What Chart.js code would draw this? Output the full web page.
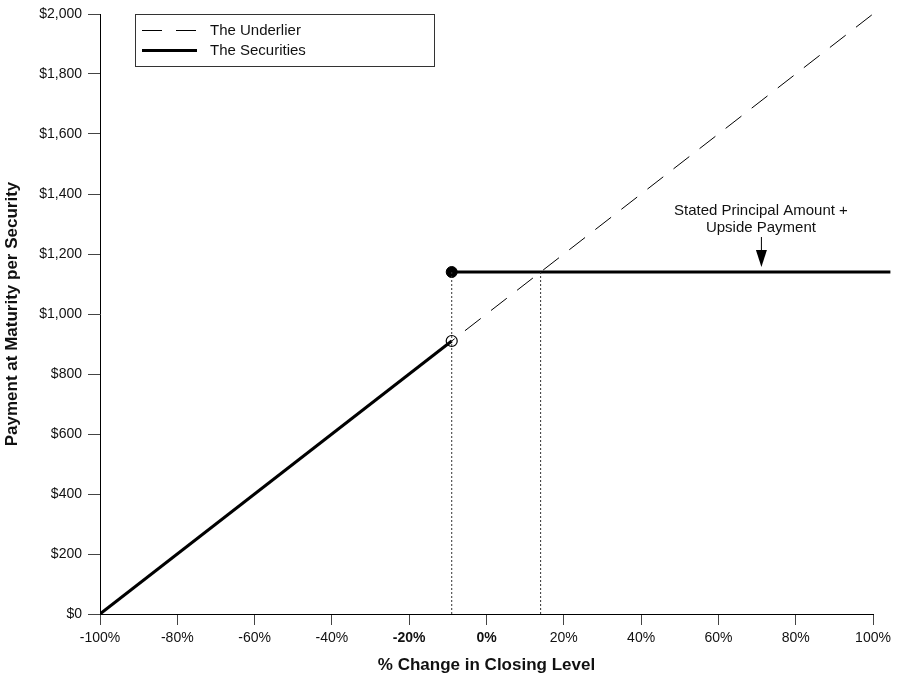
<!DOCTYPE html>
<html>
<head>
<meta charset="utf-8">
<script src="https://cdn.jsdelivr.net/npm/chart.js@4/dist/chart.umd.min.js"></script>
<style>
  html, body { margin: 0; padding: 0; background: #fff; }
  #wrap { width: 899px; height: 682px; }
</style>
</head>
<body>
<div id="wrap"><canvas id="payoff"></canvas></div>
<script>
// values
const underlierX = [-100, 100];
const underlierY = [0, 2000];
const securitiesLowX = [-100, -9];
const securitiesLowY = [0, 910];
const securitiesHighX = [-9, 104.5];
const securitiesHighY = [1140, 1140];
const bufferX = -9;
const capX = 14;
const capY = 1140;
const xTicksBold = [-20, 0];
const legendLabels = ['The Underlier', 'The Securities'];
const noteLines = ['Stated Principal Amount +', 'Upside Payment'];
const noteX = 71;

const FONT = '"Liberation Sans", Arial, sans-serif';

function pts(xs, ys) {
  return xs.map((x, i) => ({ x: x, y: ys[i] }));
}

const payoffOverlay = {
  id: 'payoffOverlay',
  afterDraw(chart) {
    const ctx = chart.ctx;
    const area = chart.chartArea;
    const xs = chart.scales.x;
    const ys = chart.scales.y;
    ctx.save();

    // legend box
    const bx = area.left + 35, by = area.top, bw = 299, bh = 52;
    ctx.strokeStyle = '#333';
    ctx.lineWidth = 1;
    ctx.strokeRect(bx + 0.5, by + 0.5, bw, bh);
    ctx.strokeStyle = '#000';
    ctx.lineWidth = 1;
    ctx.setLineDash([20, 14]);
    ctx.beginPath();
    ctx.moveTo(bx + 7, by + 16.5);
    ctx.lineTo(bx + 62, by + 16.5);
    ctx.stroke();
    ctx.setLineDash([]);
    ctx.lineWidth = 3;
    ctx.beginPath();
    ctx.moveTo(bx + 7, by + 36.5);
    ctx.lineTo(bx + 62, by + 36.5);
    ctx.stroke();
    ctx.fillStyle = '#111';
    ctx.font = '15px ' + FONT;
    ctx.textBaseline = 'middle';
    ctx.textAlign = 'left';
    ctx.fillText(legendLabels[0], bx + 75, by + 17);
    ctx.fillText(legendLabels[1], bx + 75, by + 37);

    // note with arrow
    const nx = xs.getPixelForValue(noteX);
    const ny = ys.getPixelForValue(capY);
    ctx.textAlign = 'center';
    ctx.font = '15px ' + FONT;
    ctx.fillText(noteLines[0], nx, ny - 61);
    ctx.fillText(noteLines[1], nx, ny - 44);
    ctx.lineWidth = 1;
    ctx.beginPath();
    ctx.moveTo(nx + 0.5, ny - 35);
    ctx.lineTo(nx + 0.5, ny - 20);
    ctx.stroke();
    ctx.fillStyle = '#000';
    ctx.beginPath();
    ctx.moveTo(nx - 5, ny - 22);
    ctx.lineTo(nx + 6, ny - 22);
    ctx.lineTo(nx + 0.5, ny - 5);
    ctx.closePath();
    ctx.fill();
    ctx.restore();
  }
};

new Chart(document.getElementById('payoff'), {
  type: 'scatter',
  data: {
    datasets: [
      {
        label: 'buffer guide',
        data: pts([bufferX, bufferX], [0, capY]),
        showLine: true, borderColor: '#333', borderWidth: 1, borderDash: [2, 2],
        pointRadius: 0
      },
      {
        label: 'cap guide',
        data: pts([capX, capX], [0, capY]),
        showLine: true, borderColor: '#333', borderWidth: 1, borderDash: [2, 2],
        pointRadius: 0
      },
      {
        label: legendLabels[0],
        data: pts(underlierX, underlierY),
        showLine: true, borderColor: '#000', borderWidth: 1, borderDash: [20, 13],
        pointRadius: 0
      },
      {
        label: legendLabels[1],
        data: pts(securitiesLowX, securitiesLowY),
        showLine: true, borderColor: '#000', borderWidth: 3,
        pointRadius: 0
      },
      {
        label: legendLabels[1] + ' upper',
        data: pts(securitiesHighX, securitiesHighY),
        showLine: true, borderColor: '#000', borderWidth: 3,
        pointRadius: 0, clip: false
      },
      {
        label: 'open dot',
        data: [{ x: securitiesLowX[1], y: securitiesLowY[1] }],
        radius: 5.5, pointRadius: 5.5, backgroundColor: '#fff', borderColor: '#000', borderWidth: 1,
        pointBackgroundColor: '#fff', pointBorderColor: '#000', pointBorderWidth: 1.2
      },
      {
        label: 'filled dot',
        data: [{ x: securitiesHighX[0], y: securitiesHighY[0] }],
        radius: 5.5, pointRadius: 5.5, backgroundColor: '#000', borderColor: '#000',
        pointBackgroundColor: '#000', pointBorderColor: '#000', pointBorderWidth: 1
      }
    ]
  },
  options: {
    responsive: true,
    maintainAspectRatio: false,
    animation: false,
    events: [],
    layout: { padding: { top: 14, right: 26, bottom: 0, left: 0 } },
    plugins: { legend: { display: false }, tooltip: { enabled: false } },
    scales: {
      x: {
        type: 'linear', min: -100, max: 100,
        grid: { drawOnChartArea: false, drawTicks: true, tickLength: 11, color: '#444', lineWidth: 1 },
        border: { color: '#000', width: 1 },
        ticks: {
          stepSize: 20, padding: 5, color: '#111',
          font: (c) => ({ family: FONT, size: 14, weight: (c.tick && xTicksBold.includes(c.tick.value)) ? 'bold' : 'normal' }),
          callback: (v) => v + '%'
        },
        title: {
          display: true, text: '% Change in Closing Level', color: '#111',
          font: { family: FONT, size: 17, weight: 'bold' }, padding: { top: 2, bottom: 6 }
        },
        afterFit: (s) => { s.height = 68; }
      },
      y: {
        type: 'linear', min: 0, max: 2000,
        grid: { drawOnChartArea: false, drawTicks: true, tickLength: 12, color: '#444', lineWidth: 1 },
        border: { color: '#000', width: 1 },
        ticks: {
          stepSize: 200, padding: 6, color: '#111',
          font: { family: FONT, size: 14, lineHeight: 1.05 },
          callback: (v) => '$' + v.toLocaleString('en-US')
        },
        title: {
          display: true, text: 'Payment at Maturity per Security', color: '#111',
          font: { family: FONT, size: 17, weight: 'bold' }, padding: { top: 2, bottom: 4 }
        },
        afterFit: (s) => { s.width = 100; }
      }
    }
  },
  plugins: [payoffOverlay]
});
</script>
</body>
</html>
